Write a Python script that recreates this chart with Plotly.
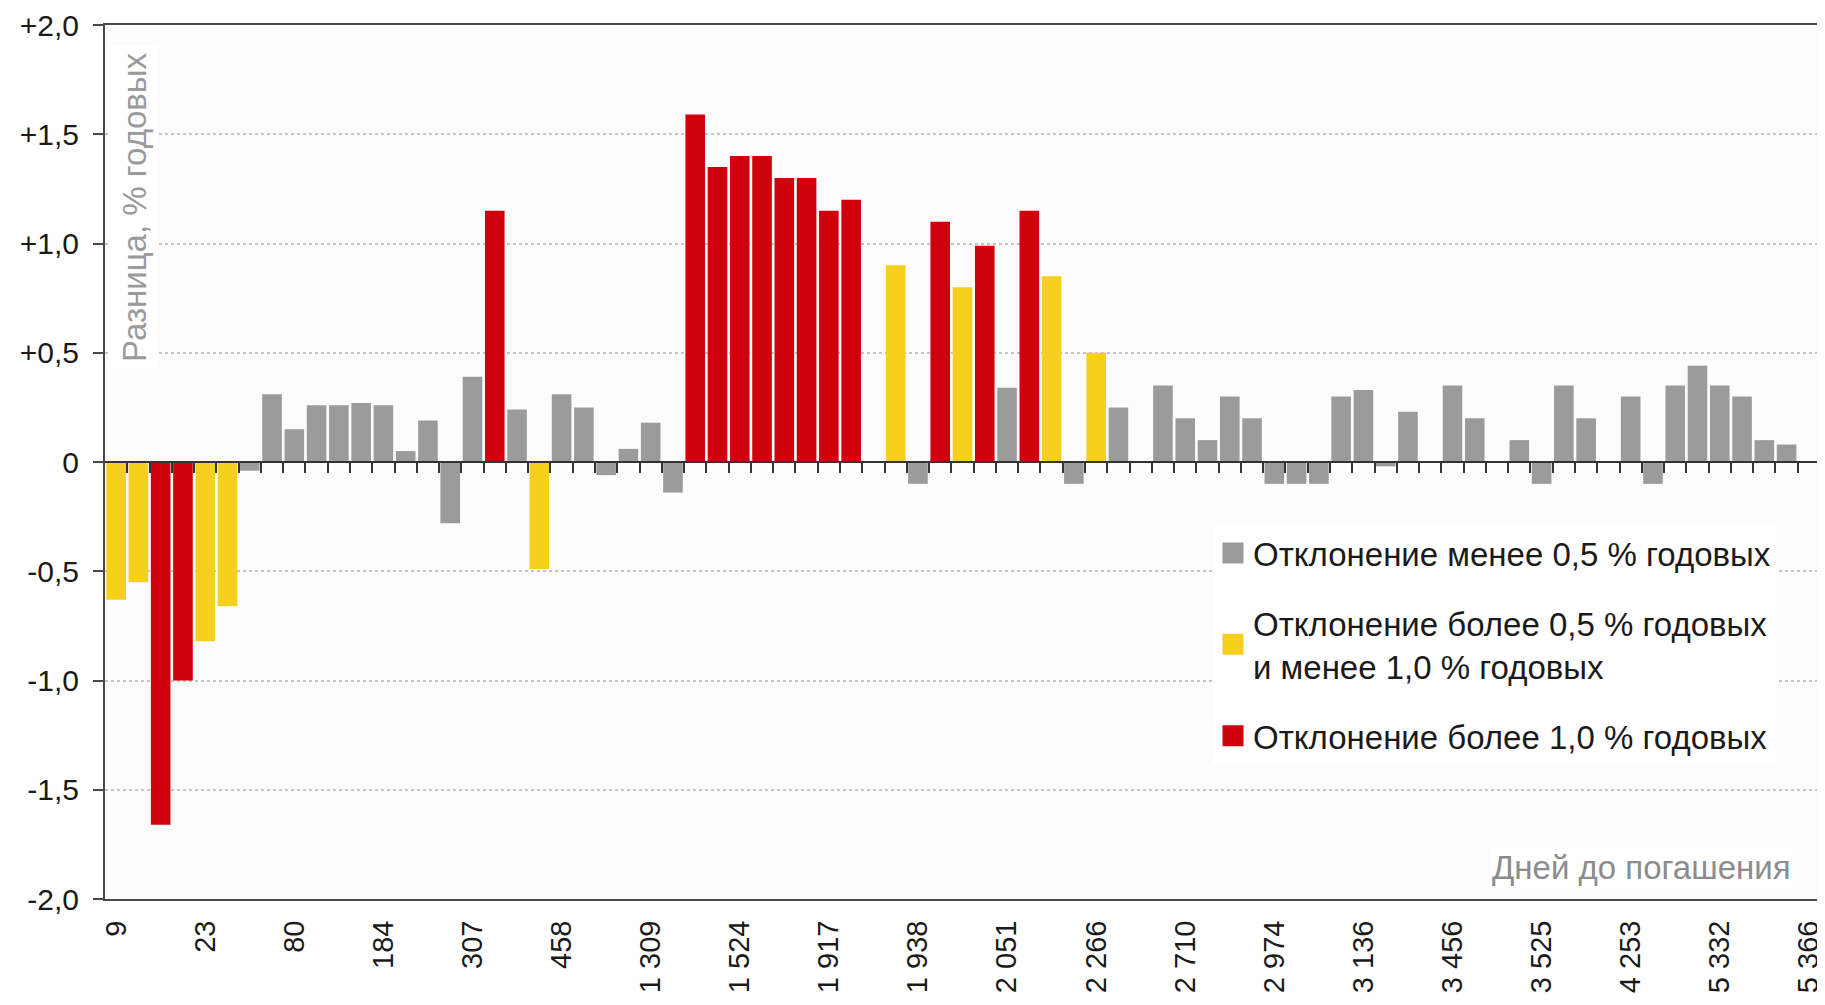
import plotly.graph_objects as go

# ---- data -------------------------------------------------------------
tick_labels = ["9", "23", "80", "184", "307", "458", "1 309", "1 524", "1 917",
               "1 938", "2 051", "2 266", "2 710", "2 974", "3 136", "3 456",
               "3 525", "4 253", "5 332", "5 366"]

values = [-0.63, -0.55, -1.66, -1.00, -0.82, -0.66, -0.04, 0.31, 0.15, 0.26,
          0.26, 0.27, 0.26, 0.05, 0.19, -0.28, 0.39, 1.15, 0.24, -0.49,
          0.31, 0.25, -0.06, 0.06, 0.18, -0.14, 1.59, 1.35, 1.40, 1.40,
          1.30, 1.30, 1.15, 1.20, None, 0.90, -0.10, 1.10, 0.80, 0.99,
          0.34, 1.15, 0.85, -0.10, 0.50, 0.25, None, 0.35, 0.20, 0.10,
          0.30, 0.20, -0.10, -0.10, -0.10, 0.30, 0.33, -0.02, 0.23, None,
          0.35, 0.20, None, 0.10, -0.10, 0.35, 0.20, None, 0.30, -0.10,
          0.35, 0.44, 0.35, 0.30, 0.10, 0.08, None]

classes = (["mid", "mid", "high", "high", "mid", "mid"] + ["low"] * 11 +
           ["high", "low", "mid"] + ["low"] * 6 + ["high"] * 8 + ["low"] +
           ["mid", "low", "high", "mid", "high", "low", "high", "mid", "low", "mid", "low"] +
           ["low"] * 30)

series_names = {
    "low": "Отклонение менее 0,5 % годовых",
    "mid": "Отклонение более 0,5 % годовых<br>и менее 1,0 % годовых",
    "high": "Отклонение более 1,0 % годовых",
}
y_ticks = [2.0, 1.5, 1.0, 0.5, 0.0, -0.5, -1.0, -1.5, -2.0]
y_tick_text = ["+2,0", "+1,5", "+1,0", "+0,5", "0", "-0,5", "-1,0", "-1,5", "-2,0"]
y_title = "Разница, % годовых"
x_title = "Дней до погашения"

# ---- styles -----------------------------------------------------------
colors = {"low": "#9b9b9b", "mid": "#f6d01c", "high": "#d0000c"}
FONT = "Arial, Liberation Sans, sans-serif"
AX = "#4a4a4a"

n = len(values)
positions = list(range(1, n + 1))
label_pos = positions[::4]

fig = go.Figure()
for key in ["low", "mid", "high"]:
    xs = [p for p, c in zip(positions, classes) if c == key]
    ys = [v for v, c in zip(values, classes) if c == key]
    fig.add_trace(go.Bar(x=xs, y=ys, marker=dict(color=colors[key], line=dict(width=0)),
                         showlegend=False, legendgroup=key, name=series_names[key]))

# legend entries (square swatches)
for key in ["low", "mid", "high"]:
    fig.add_trace(go.Scatter(x=[None], y=[None], mode="markers", xaxis="x2",
                             marker=dict(symbol="square", size=16, color=colors[key],
                                         line=dict(color=colors[key], width=5)),
                             name=series_names[key], legendgroup=key, showlegend=True))

# figure sized to fit the page together with the default 8px body margin
W, H = 1817, 989
L, R, T, B = 97, 5, 17, 98
pw, ph = W - L - R, H - T - B

def px(xp):
    return (xp - L) / pw

def py(yp):
    return (H - B - yp) / ph

fig.update_layout(
    width=W, height=H,
    margin=dict(l=L, r=R, t=T, b=B, autoexpand=False),
    paper_bgcolor="white", plot_bgcolor="#fcfcfc",
    barmode="overlay", bargap=0.12,
    font=dict(family=FONT, color="#1a1a1a"),
    xaxis=dict(range=[0.5, n + 0.5], tickvals=label_pos, ticktext=tick_labels,
               tickangle=-90, ticks="", showgrid=False, zeroline=False,
               showline=True, linecolor=AX, linewidth=2, mirror=True,
               automargin=False, ticklabeloverflow="allow",
               tickfont=dict(size=29, color="#1a1a1a"), ticklabelstandoff=8),
    xaxis2=dict(range=[0.5, n + 0.5], overlaying="x", anchor="free", position=0.5,
                side="bottom", showline=True, linecolor="#333333", linewidth=2,
                ticks="outside", ticklen=10, tickwidth=2, tickcolor="#333333",
                tickvals=[p + 0.5 for p in positions[:-1]], showticklabels=False,
                showgrid=False, zeroline=False, automargin=False),
    yaxis=dict(range=[-2, 2], tickvals=y_ticks, ticktext=y_tick_text,
               ticks="outside", ticklen=10, tickwidth=2, tickcolor=AX,
               showline=True, linecolor=AX, linewidth=2, mirror=True,
               showgrid=True, gridcolor="#c4c4c4", gridwidth=1.5, griddash="dot",
               zeroline=False, tickfont=dict(size=30, color="#1a1a1a"),
               automargin=False, ticklabeloverflow="allow",
               ticklabelstandoff=8),
    legend=dict(x=px(1205), y=py(517), xanchor="left", yanchor="top",
                bgcolor="white", borderwidth=0, traceorder="grouped",
                tracegroupgap=24, font=dict(size=33, color="#1a1a1a"),
                itemclick=False, itemdoubleclick=False),
    annotations=[
        dict(text=y_title, textangle=-90, xref="paper", yref="paper",
             x=px(126), y=py(199), xanchor="center", yanchor="middle",
             showarrow=False, font=dict(size=33, color="#9a9a9a"),
             bgcolor="white", borderpad=5),
        dict(text=x_title, xref="paper", yref="paper",
             x=px(1785), y=py(859), xanchor="right", yanchor="middle",
             showarrow=False, font=dict(size=33, color="#8c8c8c"),
             bgcolor="white"),
    ],
)

fig.write_html("out.html")
